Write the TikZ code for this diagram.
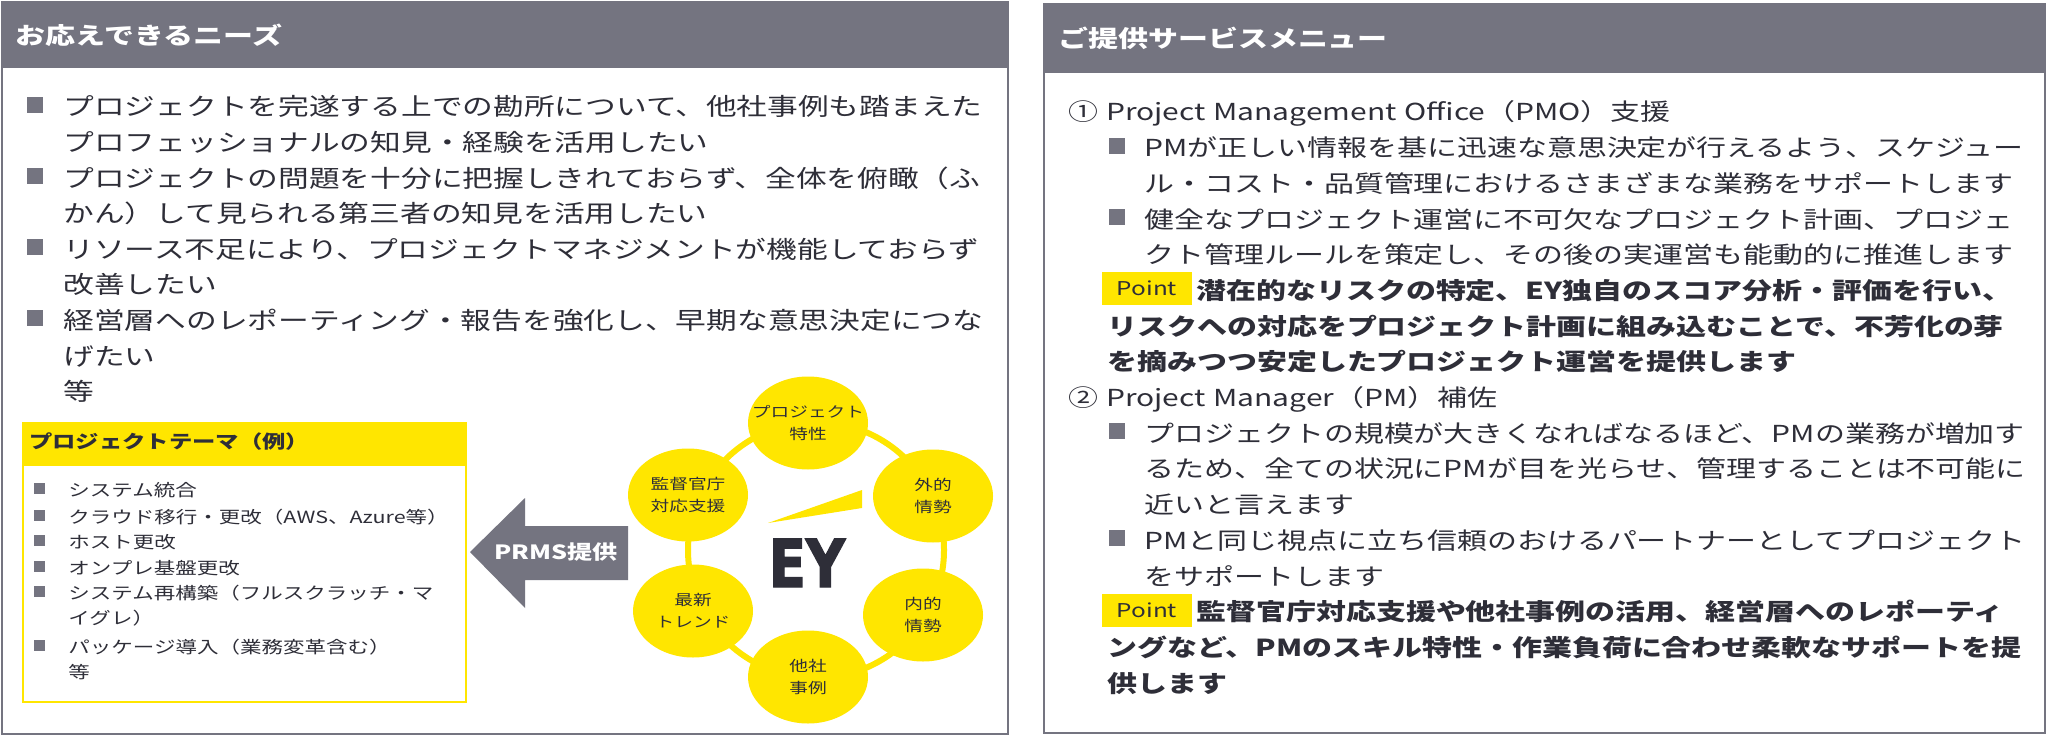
\documentclass[tikz,border=0pt]{standalone}
\usepackage{fontspec}
\setmainfont{Noto Sans CJK JP}[FakeStretch=1.28]
\newfontfamily\eyfont{DejaVu Sans Bold}[FakeStretch=0.82,FakeBold=2]
\usetikzlibrary{shapes.geometric,positioning}

\definecolor{eygray}{HTML}{747480}
\definecolor{eyyellow}{HTML}{FFE600}
\definecolor{eydark}{HTML}{2E2E38}

\tikzset{
  panel/.style={draw=eygray, line width=1pt},
  headband/.style={fill=eygray},
  headtext/.style={anchor=west, inner sep=0pt, text=white,
    font=\fontsize{11.7}{14}\selectfont\bfseries},
  bodytext/.style={anchor=base west, inner sep=0pt, text=eydark,
    text width=500pt, align=left, font=\fontsize{11.7}{17.8}\selectfont},
  needtext/.style={bodytext, font=\fontsize{12}{17.8}\selectfont},
  pointtext/.style={bodytext, font=\fontsize{11.7}{17.8}\selectfont\bfseries},
  themetext/.style={anchor=base west, inner sep=0pt, text=eydark,
    text width=300pt, align=left, font=\fontsize{8.4}{12.5}\selectfont},
  sqbullet/.style={fill=eygray, inner sep=0pt, minimum width=8pt, minimum height=8pt},
  sqsmall/.style={fill=eygray, inner sep=0pt, minimum width=5.5pt, minimum height=5.5pt},
  pointtag/.style={fill=eyyellow, inner sep=0pt, minimum width=45pt, minimum height=16.5pt,
    text=eydark, font=\fontsize{9.5}{10}\selectfont},
  bubble/.style={ellipse, fill=eyyellow, inner sep=0pt, minimum width=60pt, minimum height=46.5pt},
  bubbletext/.style={align=center, text=eydark, inner sep=0pt, font=\fontsize{7.3}{11}\selectfont}
}

\begin{document}
\begin{tikzpicture}[x=0.5pt,y=-0.5pt]
  \useasboundingbox (0,0) rectangle (2048,737);
  \fill[white] (0,0) rectangle (2048,737);

  % left panel
  \fill[headband] (2,2) rectangle (1008,68);
  \draw[panel] (2,2) rectangle (1008,734);
  \node[headtext] (needs) at (15,35) {お応えできるニーズ};

  \foreach \n/\y in {1/105,2/176,3/247,4/318}
    \node[sqbullet] (nb\n) at (35,\y) {};
  \node[needtext] (need1) at (63,116) {プロジェクトを完遂する上での勘所について、他社事例も踏まえた\\プロフェッショナルの知見・経験を活用したい};
  \node[needtext] (need2) at (63,187.2) {プロジェクトの問題を十分に把握しきれておらず、全体を俯瞰（ふ\\かん）して見られる第三者の知見を活用したい};
  \node[needtext] (need3) at (63,258.4) {リソース不足により、プロジェクトマネジメントが機能しておらず\\改善したい};
  \node[needtext] (need4) at (63,329.6) {経営層へのレポーティング・報告を強化し、早期な意思決定につな\\げたい\\等};

  % project themes
  \fill[eyyellow] (23,423) rectangle (466,466);
  \draw[eyyellow, line width=1pt] (23,423) rectangle (466,702);
  \node[anchor=west, inner sep=0pt, text=eydark, font=\fontsize{9.1}{11}\selectfont\bfseries]
    (theme) at (29,442) {プロジェクトテーマ（例）};
  \foreach \n/\y/\t in {1/496.4/{システム統合},
      2/523.4/{クラウド移行・更改（AWS、Azure等）},
      3/548.4/{ホスト更改},
      4/574.4/{オンプレ基盤更改},
      5/599.4/{システム再構築（フルスクラッチ・マ\\イグレ）},
      6/653.4/{パッケージ導入（業務変革含む）\\等}}{
    \node[sqsmall] (tb\n) at (39,\y-7.5) {};
    \node[themetext] (thm\n) at (68,\y) {\t};
  }

  % arrow
  \fill[eygray] (628,526) -- (525,526) -- (525,498) -- (470,552)
    -- (525,608) -- (525,580) -- (628,580) -- cycle;
  \node[text=white, font=\fontsize{9.8}{11}\selectfont\bfseries] (prms) at (556,552) {PRMS提供};

  % EY ring
  \coordinate (ring) at (816,550);
  \draw[eyyellow, line width=3pt] (ring) ellipse [x radius=128, y radius=128];
  \foreach \name/\pos/\txt in {tokusei/{808,423}/{プロジェクト\\特性},
      gaiteki/{933,496}/{外的\\情勢},
      naiteki/{923,615}/{内的\\情勢},
      tasha/{808,677}/{他社\\事例},
      trend/{693,611}/{最新\\トレンド},
      kantoku/{688,495}/{監督官庁\\対応支援}}
    \node[bubble, label={[bubbletext]center:\txt}] (\name) at (\pos) {};
  \fill[eyyellow] (768,523) -- (862,490) -- (862,508) -- cycle;
  \node[anchor=base, inner sep=0pt, text=eydark, font=\eyfont\fontsize{33}{33}\selectfont]
    (eylogo) at (807,587) {EY};

  % right panel
  \fill[headband] (1044,4) rectangle (2045,73);
  \draw[panel] (1044,4) rectangle (2045,733);
  \node[headtext] (menu) at (1058,38) {ご提供サービスメニュー};

  \foreach \n/\y in {1/146,2/217,3/431,4/538}
    \node[sqbullet] (mb\n) at (1117,\y) {};
  \node[bodytext] (pmo) at (1068,121) {① Project Management Office（PMO）支援};
  \node[bodytext] (pmo1) at (1144,156.7) {PMが正しい情報を基に迅速な意思決定が行えるよう、スケジュー\\ル・コスト・品質管理におけるさまざまな業務をサポートします};
  \node[bodytext] (pmo2) at (1144,228.1) {健全なプロジェクト運営に不可欠なプロジェクト計画、プロジェ\\クト管理ルールを策定し、その後の実運営も能動的に推進します};
  \node[pointtag] (pt1) at (1147,288.5) {Point};
  \node[pointtext] (pmopt) at (1107,299.5) {\hspace*{44.5pt}潜在的なリスクの特定、EY独自のスコア分析・評価を行い、\\リスクへの対応をプロジェクト計画に組み込むことで、不芳化の芽\\を摘みつつ安定したプロジェクト運営を提供します};

  \node[bodytext] (pm) at (1068,406.6) {② Project Manager（PM）補佐};
  \node[bodytext] (pm1) at (1144,442.3) {プロジェクトの規模が大きくなればなるほど、PMの業務が増加す\\るため、全ての状況にPMが目を光らせ、管理することは不可能に\\近いと言えます};
  \node[bodytext] (pm2) at (1144,549.4) {PMと同じ視点に立ち信頼のおけるパートナーとしてプロジェクト\\をサポートします};
  \node[pointtag] (pt2) at (1147,610) {Point};
  \node[pointtext] (pmpt) at (1107,620.8) {\hspace*{44.5pt}監督官庁対応支援や他社事例の活用、経営層へのレポーティ\\ングなど、PMのスキル特性・作業負荷に合わせ柔軟なサポートを提\\供します};
\end{tikzpicture}
\end{document}
